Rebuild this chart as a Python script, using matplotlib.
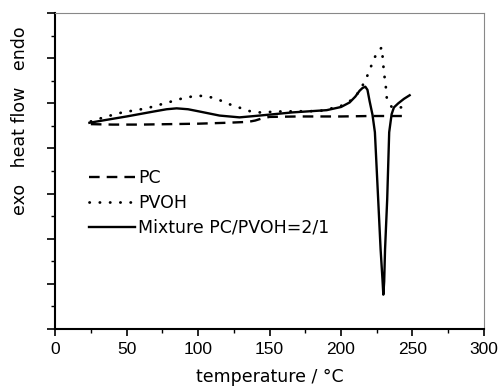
import matplotlib.pyplot as plt
from matplotlib.ticker import MultipleLocator

plt.rcParams['font.family'] = ['Liberation Sans', 'DejaVu Sans']

# PC (dashed)
pc_t = [25, 40, 60, 80, 100, 120, 135, 140, 145, 150, 170, 200, 220, 245]
pc_q = [4.54, 4.53, 4.53, 4.54, 4.55, 4.57, 4.59, 4.62, 4.67, 4.70, 4.71, 4.71, 4.72, 4.72]

# PVOH (dotted)
pvoh_t = [25, 35, 47, 64, 80, 90, 99, 106, 113, 122, 136, 143, 157, 185, 199, 205, 210,
          214, 218, 222, 225, 228.5, 229.3, 230, 231.2, 232, 234, 236, 240, 245]
pvoh_q = [4.60, 4.70, 4.80, 4.89, 5.03, 5.12, 5.17, 5.16, 5.10, 4.98, 4.83, 4.80, 4.82, 4.83,
          4.93, 5.02, 5.15, 5.33, 5.58, 5.90, 6.12, 6.24, 5.96, 5.69, 5.42, 5.13, 4.98, 4.90,
          4.90, 4.93]

# Mixture PC/PVOH = 2/1 (solid)
mix_t = [24, 35, 50, 69, 78, 85, 93, 101, 115, 129, 143, 166, 190, 200, 206, 210, 213,
         215, 217, 218.5, 220, 222, 223.7, 226, 227.7, 229, 229.6, 230.2, 230.8, 232.3,
         233.7, 235.4, 237, 240, 244, 248]
mix_q = [4.57, 4.63, 4.71, 4.82, 4.87, 4.89, 4.87, 4.82, 4.73, 4.69, 4.73, 4.80, 4.85, 4.92,
         5.02, 5.15, 5.28, 5.34, 5.37, 5.30, 5.05, 4.75, 4.36, 2.87, 1.76, 1.10, 0.76, 1.05,
         1.76, 2.87, 4.36, 4.76, 4.91, 5.00, 5.10, 5.18]

fig = plt.figure(figsize=(5.01, 3.87), dpi=100)
ax = fig.add_axes([0.11, 0.15, 0.856, 0.816])

ax.plot(pc_t, pc_q, color='black', lw=1.7, linestyle=(0, (4.5, 3)), label='PC')
ax.plot(pvoh_t, pvoh_q, color='black', lw=2.0, linestyle=(0, (0.1, 3.6)),
        dash_capstyle='round', label='PVOH')
ax.plot(mix_t, mix_q, color='black', lw=1.7, label='Mixture PC/PVOH=2/1')

ax.set_xlim(0, 300)
ax.set_ylim(0, 7)
ax.xaxis.set_major_locator(MultipleLocator(50))
ax.xaxis.set_minor_locator(MultipleLocator(25))
ax.yaxis.set_major_locator(MultipleLocator(1))
ax.yaxis.set_minor_locator(MultipleLocator(0.5))
ax.tick_params(which='major', direction='out', length=5, width=1.2, labelsize=12.5, pad=4.5)
ax.tick_params(which='minor', direction='out', length=3, width=1)
ax.tick_params(axis='y', which='major', length=6)
ax.tick_params(axis='y', which='both', labelleft=False)

for s in ['left', 'bottom']:
    ax.spines[s].set_linewidth(1.5)
for s in ['top', 'right']:
    ax.spines[s].set_linewidth(0.8)
    ax.spines[s].set_color('#888888')

lab_font = {'family': 'DejaVu Sans', 'size': 12.5}
ax.set_xlabel('temperature / \u00b0C', fontdict=lab_font, labelpad=8)
ax.set_ylabel('exo   heat flow   endo', fontdict=lab_font)
ax.yaxis.set_label_coords(-0.062, 0.661)

ax.legend(loc='upper left', bbox_to_anchor=(0.08, 0.505), frameon=False,
          prop={'family': 'DejaVu Sans', 'size': 12.5},
          handlelength=2.6, handletextpad=0.2, labelspacing=0.38, borderaxespad=0,
          borderpad=0)

fig.savefig('out.png', dpi=100)
